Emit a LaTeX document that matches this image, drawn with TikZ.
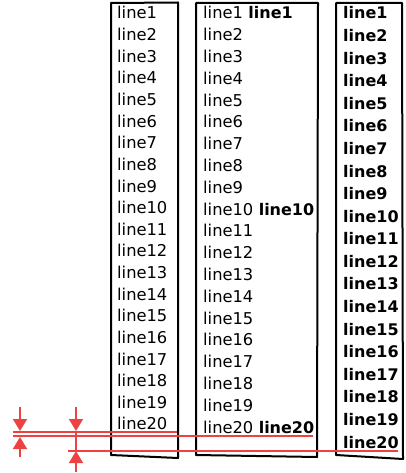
\documentclass[tikz,border=0pt]{standalone}
\usepackage{fontspec}
\setmainfont{DejaVu Sans}
\usetikzlibrary{arrows.meta}
\definecolor{redline}{RGB}{238,66,66}
\begin{document}
\begin{tikzpicture}[x=1pt,y=-1pt,
  txt/.style={anchor=base west,inner sep=0pt,font=\fontsize{16.3}{19}\selectfont},
  btxt/.style={anchor=base west,inner sep=0pt,font=\fontsize{16}{19}\selectfont\bfseries},
  frame/.style={draw=black,line width=2pt,line join=round},
  rline/.style={draw=redline,line width=1.6pt},
  rarrow/.style={draw=redline,line width=1.6pt,-{Triangle[length=12pt,width=14pt]}}]
\useasboundingbox (0,0) rectangle (405,473);
% frames
\draw[frame] (111,3) -- (178,2.5) -- (178,458) -- (111,455) -- cycle;
\draw[frame] (196,3) -- (318,3) -- (317,457) -- (196,455) -- cycle;
\draw[frame] (336,3) -- (402,3) -- (403,459) -- (336,455) -- cycle;
% column 1
\foreach \i in {1,...,20} {
  \node[txt] (a\i) at (117,{19+(\i-1)*21.63}) {line\i};
}
% column 2
\foreach \i in {1,...,20} {
  \node[txt] (b\i) at (203,{19+(\i-1)*21.79}) {line\i};
}
\node[btxt] (b1x) at ([xshift=5pt]b1.base east) {line1};
\node[btxt] (b10x) at ([xshift=5pt]b10.base east) {line10};
\node[btxt] (b20x) at ([xshift=5pt]b20.base east) {line20};
% column 3
\foreach \i in {1,...,20} {
  \node[btxt] (c\i) at (343,{19+(\i-1)*22.58}) {line\i};
}
% red guide lines
\coordinate (A0) at (13,432);
\coordinate (A1) at (177,432);
\coordinate (B0) at (13,436);
\coordinate (B1) at (313,436);
\coordinate (C0) at (68,451);
\coordinate (C1) at (398,451);
\draw[rline] (A0) -- (A1);
\draw[rline] (B0) -- (B1);
\draw[rline] (C0) -- (C1);
% arrows, left pair
\coordinate (L1) at (20,407);
\coordinate (L1t) at (20,431);
\coordinate (L2) at (20,457);
\coordinate (L2t) at (20,437);
\draw[rarrow] (L1) -- (L1t);
\draw[rarrow] (L2) -- (L2t);
% arrows, right pair
\coordinate (R1) at (76,407);
\coordinate (R1t) at (76,431);
\coordinate (R2) at (76,472);
\coordinate (R2t) at (76,451);
\draw[rarrow] (R1) -- (R1t);
\draw[rline] (R1t) -- (R2t);
\draw[rarrow] (R2) -- (R2t);
\end{tikzpicture}
\end{document}
